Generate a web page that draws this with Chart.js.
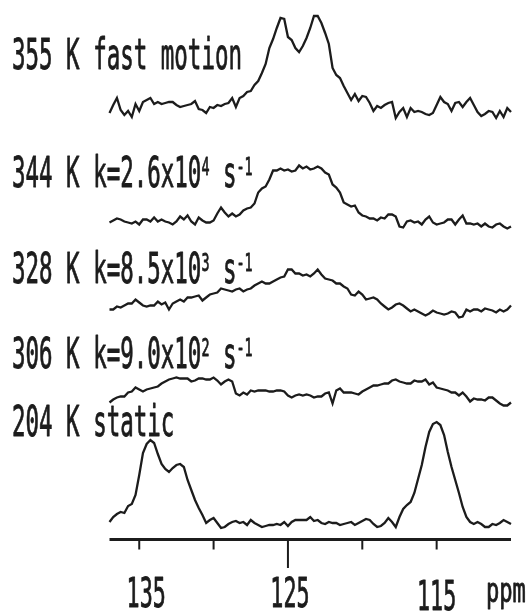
<!DOCTYPE html>
<html>
<head>
<meta charset="utf-8">
<title>VT 13C NMR</title>
<script src="https://cdn.jsdelivr.net/npm/chart.js@4.4.0/dist/chart.umd.min.js"></script>
<style>
  html, body { margin: 0; padding: 0; background: #fff; }
  #wrap { width: 531px; height: 612px; }
</style>
</head>
<body>
<div id="wrap"><canvas id="nmrChart" width="531" height="612"></canvas></div>
<script>
// chemical shift grid (ppm), shared by all spectra
const ppm = [137,136.75,136.5,136.25,136,135.75,135.5,135.25,135,134.75,134.5,134.25,134,133.75,133.5,133.25,133,132.75,132.5,132.25,
  132,131.75,131.5,131.25,131,130.75,130.5,130.25,130,129.75,129.5,129.25,129,128.75,128.5,128.25,128,127.75,127.5,127.25,
  127,126.75,126.5,126.25,126,125.75,125.5,125.25,125,124.75,124.5,124.25,124,123.75,123.5,123.25,123,122.75,122.5,122.25,
  122,121.75,121.5,121.25,121,120.75,120.5,120.25,120,119.75,119.5,119.25,119,118.75,118.5,118.25,118,117.75,117.5,117.25,
  117,116.75,116.5,116.25,116,115.75,115.5,115.25,115,114.75,114.5,114.25,114,113.75,113.5,113.25,113,112.75,112.5,112.25,
  112,111.75,111.5,111.25,111,110.75,110.5,110.25,110];

// intensities (relative to each spectrum's own baseline)
const spec355 = [-5,3,10,-2,-7,-3,-9,4,-3,6, 8,10,4,6,4,5,6,6,3,1, 2,3,4,7,-1,-2,-5,1,0,3,
  2,4,5,10,1,10,12,16,17,23, 27,35,44,60,69,80,90,89,71,68, 60,56,62,70,80,92,92,85,75,64,
  40,33,30,22,15,8,14,7,12,11, 5,-3,2,0,3,5,6,-10,-4,0, -9,0,-4,-3,-4,-6,-7,-5,3,11,
  6,4,-3,5,6,1,6,10,3,-4, -8,-6,-3,-4,-10,-3,-9,0,-4];
const spec344 = [-1,1,3,2,0,-1,-2,0,-3,2, 2,0,4,0,2,0,-1,-3,0,5, 2,6,0,-3,4,1,-1,-1,1,8,
  14,9,5,8,5,7,11,13,14,18, 29,33,35,42,51,51,53,51,52,50, 51,56,53,55,52,53,55,53,49,47,
  37,34,29,19,17,15,16,9,6,5, 3,3,1,4,3,7,7,5,-5,-6, 0,1,-1,0,-3,2,5,-1,-3,-2,
  -1,2,2,-3,2,6,-2,-2,-3,-2, -5,-2,-5,-6,-3,-2,-5,-7,-5];
const spec328 = [-3,-3,0,-1,1,3,3,7,4,1, 0,1,1,5,2,4,-3,3,5,7, 5,9,9,10,11,6,9,12,13,14,
  18,17,16,15,17,18,15,17,18,21, 23,25,23,23,25,27,29,30,37,37, 33,33,31,32,30,33,37,32,28,27,
  26,23,23,20,18,12,11,15,12,7, 8,9,7,3,0,-3,-1,2,3,1, -2,-5,-3,-5,-7,-9,-7,-4,-6,-7,
  -8,-7,-5,-6,-11,-10,-3,-5,-3,-3, -5,-2,-3,-4,-6,-3,-5,-3,1];
const spec306 = [-1,2,4,5,5,9,10,14,12,10, 12,13,14,15,18,20,22,23,24,23, 23,23,20,21,23,23,22,22,24,21,
  17,20,22,20,8,6,9,7,11,10, 11,11,11,10,10,11,11,10,6,4, 6,7,6,7,6,4,5,5,8,9,
  -2,11,13,9,9,9,8,7,10,12, 14,16,16,17,18,18,21,22,20,19, 18,18,21,20,20,22,17,19,14,13,
  12,11,9,9,6,9,5,0,3,2, 2,1,4,4,1,-2,-4,-4,-1];
const spec204 = [3,8,11,13,12,19,21,30,50,72, 81,85,82,71,61,56,53,57,60,61, 58,45,35,25,17,10,2,5,7,2,
  -3,-2,1,3,4,2,3,0,5,2, 0,-2,-1,0,0,1,0,3,-1,3, 5,5,5,5,8,4,5,2,1,3,
  2,2,0,1,2,3,0,2,4,6, 5,1,-2,-1,2,7,3,-2,8,16, 20,23,32,46,60,78,93,101,103,100,
  90,73,58,45,32,18,8,3,1,3, 1,-2,-2,1,0,2,5,3,1];

// stacking offsets (vertical shift of each spectrum)
const offsets = [431.5, 318, 233, 138, 14.5];

// spectrum labels: [text, superscript?]
const label355 = [['355 K fast motion', false]];
const label344 = [['344 K k=2.6x10', false], ['4', true], [' s', false], ['-1', true]];
const label328 = [['328 K k=8.5x10', false], ['3', true], [' s', false], ['-1', true]];
const label306 = [['306 K k=9.0x10', false], ['2', true], [' s', false], ['-1', true]];
const label204 = [['204 K static', false]];

const axisTicks = [135, 130, 125, 120, 115];
const tickLabels = [135, 125, 115];
const unitLabel = 'ppm';

// layout / style
const ink = '#1c1c1c';
const labelBaselines = [69, 187, 283, 368, 436];
const labelLeft = 12;
const tickLabelShift = { 135: 7, 125: 2, 115: 0 };
const tickLabelBase = { 135: 607, 125: 607, 115: 610 };
const FONT = '"DejaVu Sans Mono", monospace';

function drawNarrow(ctx, parts, x, y, size, sx, align) {
  ctx.save();
  ctx.translate(x, y);
  ctx.scale(sx, 1);
  ctx.textBaseline = 'alphabetic';
  ctx.textAlign = align || 'left';
  ctx.lineWidth = 0.9;
  ctx.lineJoin = 'round';
  let cx = 0;
  parts.forEach(([t, sup]) => {
    const fs = sup ? Math.round(size * 0.6) : size;
    ctx.font = fs + 'px ' + FONT;
    const dy = sup ? -size * 0.29 : 0;
    ctx.fillText(t, cx, dy);
    ctx.strokeText(t, cx, dy);
    cx += ctx.measureText(t).width;
  });
  ctx.restore();
}

const overlay = {
  id: 'overlay',
  afterDraw(chart) {
    const ctx = chart.ctx;
    const xs = chart.scales.x;
    const area = chart.chartArea;
    const axisY = chart.scales.y.getPixelForValue(0);

    ctx.save();
    ctx.strokeStyle = ink;
    ctx.fillStyle = ink;
    ctx.lineCap = 'butt';

    // axis line
    ctx.lineWidth = 3;
    ctx.beginPath();
    ctx.moveTo(area.left, axisY);
    ctx.lineTo(area.right, axisY);
    ctx.stroke();

    // ticks
    ctx.lineWidth = 2;
    axisTicks.forEach(v => {
      const x = xs.getPixelForValue(v);
      ctx.beginPath();
      ctx.moveTo(x, axisY);
      ctx.lineTo(x, axisY + (v === 125 ? 28.5 : 10));
      ctx.stroke();
    });

    // tick labels
    tickLabels.forEach(v => {
      const x = xs.getPixelForValue(v) + tickLabelShift[v];
      drawNarrow(ctx, [[String(v), false]], x, tickLabelBase[v], 41, 0.53, 'center');
    });
    drawNarrow(ctx, [[unitLabel, false]], 486, 602, 34, 0.65);

    // spectrum labels
    [label355, label344, label328, label306, label204].forEach((parts, k) => {
      drawNarrow(ctx, parts, labelLeft, labelBaselines[k], 42, 0.535);
    });
    ctx.restore();
  }
};

const spectra = [spec355, spec344, spec328, spec306, spec204];
const names = ['355 K', '344 K', '328 K', '306 K', '204 K'];

const datasets = spectra.map((s, k) => ({
  label: names[k],
  data: s.map((v, i) => ({ x: ppm[i], y: v + offsets[k] })),
  borderColor: ink,
  borderWidth: 2.3,
  pointRadius: 0,
  tension: 0,
  fill: false,
  clip: false
}));

new Chart(document.getElementById('nmrChart').getContext('2d'), {
  type: 'line',
  data: { datasets: datasets },
  options: {
    responsive: false,
    animation: false,
    layout: { padding: { left: 109.5, right: 20, top: 0, bottom: 72.5 } },
    scales: {
      x: { type: 'linear', min: 110, max: 137, reverse: true, display: false },
      y: { type: 'linear', min: 0, max: 539.5, display: false }
    },
    plugins: {
      legend: { display: false },
      tooltip: { enabled: false }
    }
  },
  plugins: [overlay]
});
</script>
</body>
</html>
